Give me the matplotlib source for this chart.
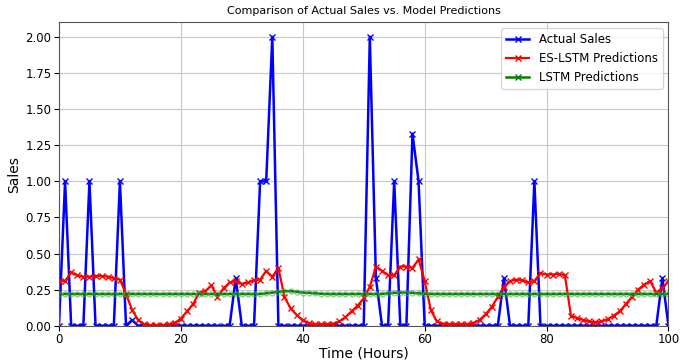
import numpy as np
import matplotlib
matplotlib.use('Agg')
import matplotlib.pyplot as plt
from matplotlib.lines import Line2D

# hours 0..100
hours = np.arange(101)

# actual sales (mostly zero with spikes)
actual_sales = np.zeros(101)
spikes = {1: 1.0, 5: 1.0, 10: 1.0, 12: 0.04, 29: 0.33, 33: 1.0, 34: 1.0, 35: 2.0,
          51: 2.0, 52: 0.33, 55: 1.0, 58: 1.33, 59: 1.0, 73: 0.33, 78: 1.0, 99: 0.33}
for h, v in spikes.items():
    actual_sales[h] = v

# ES-LSTM predictions
es_lstm = [0.31, 0.31, 0.37, 0.35, 0.34, 0.34, 0.345, 0.345, 0.34, 0.33,
           0.32, 0.22, 0.11, 0.04, 0.01, 0.005, 0.005, 0.005, 0.01, 0.02,
           0.05, 0.10, 0.15, 0.23, 0.24, 0.28, 0.20, 0.26, 0.30, 0.31,
           0.29, 0.30, 0.315, 0.32, 0.38, 0.34, 0.40, 0.20, 0.12, 0.075,
           0.037, 0.02, 0.01, 0.01, 0.01, 0.015, 0.03, 0.06, 0.10, 0.14,
           0.19, 0.27, 0.41, 0.38, 0.35, 0.35, 0.41, 0.41, 0.40, 0.46,
           0.31, 0.11, 0.03, 0.015, 0.01, 0.01, 0.01, 0.01, 0.02, 0.04,
           0.08, 0.13, 0.20, 0.27, 0.31, 0.32, 0.315, 0.30, 0.31, 0.365,
           0.355, 0.355, 0.36, 0.35, 0.07, 0.055, 0.04, 0.03, 0.025, 0.03,
           0.045, 0.07, 0.10, 0.15, 0.20, 0.25, 0.285, 0.31, 0.23, 0.26,
           0.31]

# LSTM predictions (nearly flat)
lstm = [0.22] * 34 + [0.225, 0.23, 0.235, 0.24, 0.24, 0.235, 0.23, 0.228, 0.225, 0.222] \
       + [0.22] * 10 + [0.225, 0.228, 0.23, 0.23, 0.228, 0.225, 0.222] + [0.22] * 40

fig = plt.figure(figsize=(6.81, 3.62), dpi=100)
ax = fig.add_axes([0.0866, 0.1, 0.895, 0.838])

ax.plot(hours, actual_sales, color='blue', marker='x', markersize=4, linewidth=1.8)
ax.plot(hours, es_lstm, color='red', marker='x', markersize=4, linewidth=1.6)
ax.plot(hours, lstm, color='green', marker='o', markersize=3.5, markerfacecolor='none',
        markeredgecolor=(0.3, 0.65, 0.3, 0.6), linewidth=1.8)

ax.set_xlim(0, 100)
ax.set_ylim(0, 2.1)
ax.set_yticks(np.arange(0, 2.01, 0.25))
ax.grid(True, color='#c8c8c8', linewidth=0.8)
ax.tick_params(labelsize=8.5, pad=2)
for s in ax.spines.values():
    s.set_color('#555555')

ax.set_title('Comparison of Actual Sales vs. Model Predictions', fontsize=8)
ax.set_xlabel('Time (Hours)', fontsize=10, labelpad=0)
ax.set_ylabel('Sales', fontsize=10, labelpad=3)

handles = [Line2D([], [], color='blue', marker='x', markersize=4, linewidth=1.8),
           Line2D([], [], color='red', marker='x', markersize=4, linewidth=1.6),
           Line2D([], [], color='green', marker='x', markersize=4, linewidth=1.8)]
ax.legend(handles, ['Actual Sales', 'ES-LSTM Predictions', 'LSTM Predictions'],
          loc='upper right', fontsize=8.5)

fig.savefig('out.png', dpi=100)
